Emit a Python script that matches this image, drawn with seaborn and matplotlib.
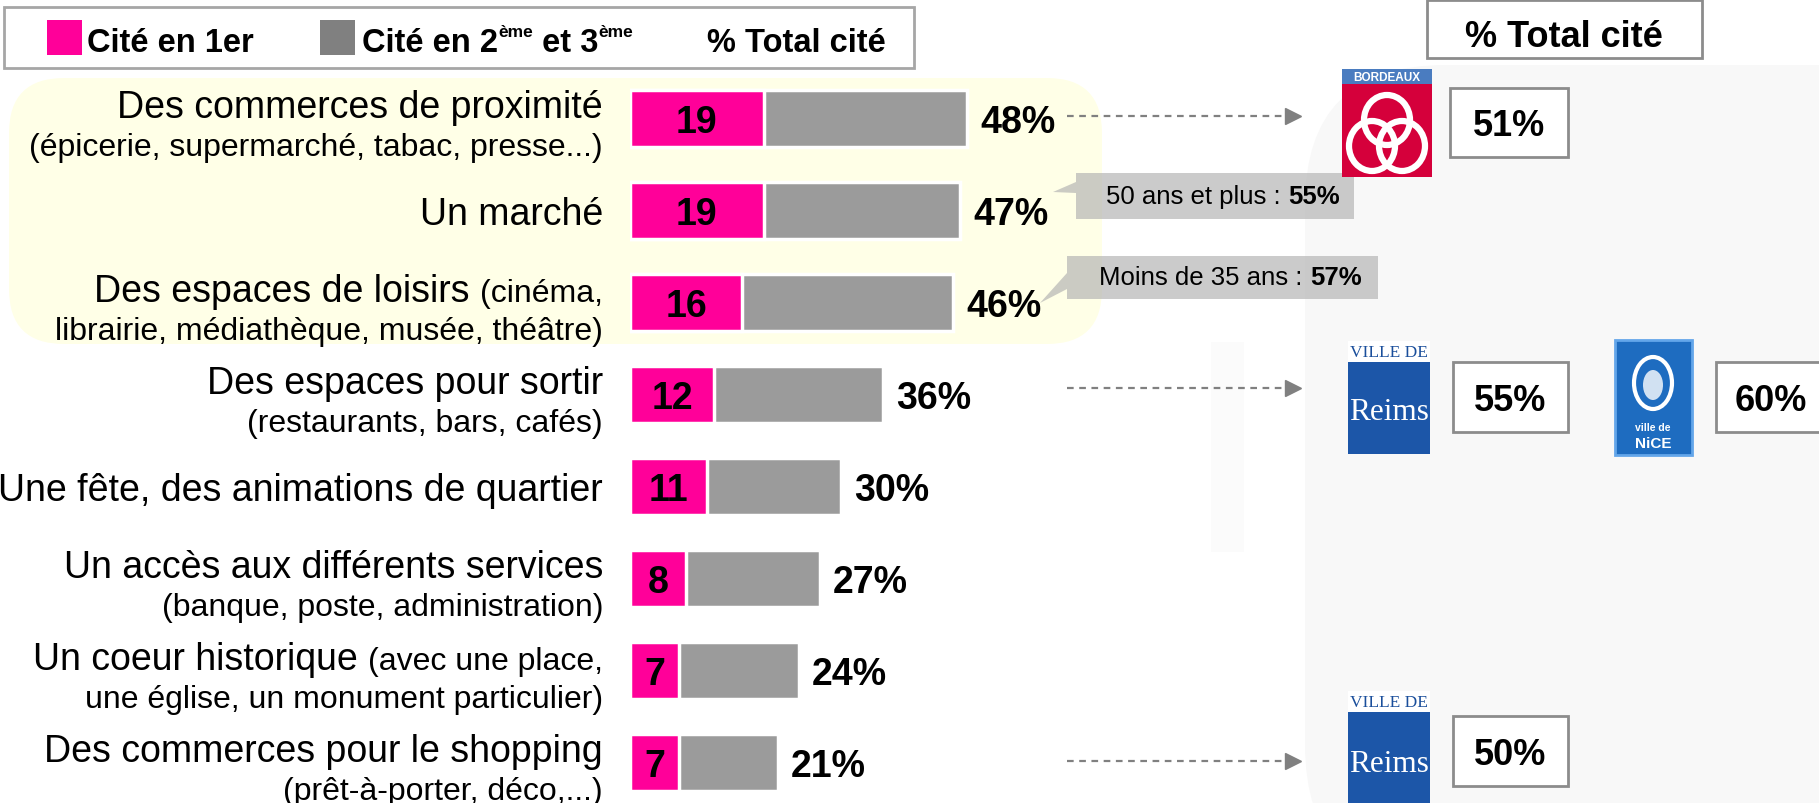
import matplotlib
matplotlib.use("Agg")
import matplotlib.pyplot as plt
from matplotlib.patches import Rectangle, FancyBboxPatch, Polygon, Ellipse
import seaborn as sns
import pandas as pd

# ---- data ----
labels_main = ["Des commerces de proximité", "Un marché", "Des espaces de loisirs ",
               "Des espaces pour sortir", "Une fête, des animations de quartier",
               "Un accès aux différents services", "Un coeur historique ",
               "Des commerces pour le shopping"]
labels_inline = ["", "", "(cinéma,", "", "", "", "(avec une place,", ""]
labels_sub = ["(épicerie, supermarché, tabac, presse...)", "",
              "librairie, médiathèque, musée, théâtre)", "(restaurants, bars, cafés)", "",
              "(banque, poste, administration)", "une église, un monument particulier)",
              "(prêt-à-porter, déco,...)"]
cite_1er = [19, 19, 16, 12, 11, 8, 7, 7]
total_cite = [48, 47, 46, 36, 30, 27, 24, 21]

callout_text = ["50 ans et plus : ", "Moins de 35 ans : "]
callout_value = ["55%", "57%"]

city_values = ["51%", "55%", "60%", "50%"]

PINK = "#FF0099"
GREY = "#9B9B9B"

df = pd.DataFrame({"item": labels_main, "first": cite_1er, "total": total_cite})

W, H = 1819, 804
sns.set_style("white")
plt.rcParams["font.family"] = ["Liberation Sans", "DejaVu Sans"]
plt.rcParams["text.color"] = "black"

fig = plt.figure(figsize=(W / 100, H / 100), dpi=100)

# background / decoration layer in pixel coordinates
bg = fig.add_axes([0, 0, 1, 1])
bg.set_xlim(0, W)
bg.set_ylim(H, 0)
bg.axis("off")

bg.add_patch(FancyBboxPatch((9, 79), 1093, 266, boxstyle="round,pad=0,rounding_size=55",
                            fc="#FFFFE7", ec="none"))
bg.add_patch(FancyBboxPatch((1305, 66), 700, 820, boxstyle="round,pad=0,rounding_size=140",
                            fc="#F8F8F8", ec="none"))
bg.add_patch(Rectangle((1211, 343), 33, 210, fc="#FBFBFB", ec="none"))

# legend box
bg.add_patch(Rectangle((4, 8), 910, 61, fc="white", ec="#A6A6A6", lw=2))
bg.add_patch(Rectangle((47, 21), 35, 35, fc=PINK, ec="none"))
bg.add_patch(Rectangle((320, 21), 35, 35, fc="#808080", ec="none"))
leg_kw = dict(fontsize=23.5, fontweight="bold", va="baseline")
bg.text(87, 52, "Cité en 1er", ha="left", **leg_kw)
t = bg.text(362, 52, "Cité en 2", ha="left", **leg_kw)
sup_kw = dict(fontsize=12.5, fontweight="bold", va="baseline", ha="left")
t = bg.annotate("ème", xy=(1, 37), xycoords=(t, "data"), **sup_kw)
t = bg.annotate(" et 3", xy=(1, 52), xycoords=(t, "data"), ha="left", **leg_kw)
bg.annotate("ème", xy=(1, 37), xycoords=(t, "data"), **sup_kw)
bg.text(707, 52, "% Total cité", ha="left", **leg_kw)

# header on the right
bg.add_patch(Rectangle((1427, 1), 275, 58, fc="white", ec="#8C8C8C", lw=2))
bg.text(1564, 47, "% Total cité", ha="center", va="baseline", fontsize=26, fontweight="bold")

# callouts
callout_boxes = [(1076, 174, 1354, 220, [(1076, 194), (1053, 193), (1076, 183)]),
                 (1067, 257, 1378, 300, [(1067, 290), (1040, 304), (1067, 274)])]
for (x0, y0, x1, y1, tail), txt, val in zip(callout_boxes, callout_text, callout_value):
    pts = [(x0, y0), (x1, y0), (x1, y1), (x0, y1)] + tail
    bg.add_patch(Polygon(pts, closed=True, fc="#B0B0B0", ec="none", alpha=0.65))
    t = bg.text((x0 + x1) / 2 - 18, (y0 + y1) / 2 + 7, txt, ha="center", va="baseline",
                fontsize=18.5)
    bg.annotate(val, xy=(1, (y0 + y1) / 2 + 7), xycoords=(t, "data"), ha="left",
                va="baseline", fontsize=18.5, fontweight="bold")

# dashed arrows to the city comparisons
for y in [117, 389, 762]:
    bg.plot([1067, 1290], [y, y], ls=(0, (3, 2.5)), color="#808080", lw=1.6)
    bg.plot(1293, y, marker=">", ms=11, color="#808080", mec="#808080")

# city logos
# Bordeaux
bg.add_patch(Rectangle((1342, 70), 90, 108, fc="#D5003B", ec="none"))
bg.add_patch(Rectangle((1342, 70), 90, 15, fc="#4A7CC0", ec="none"))
bg.text(1387, 78, "BORDEAUX", color="white", fontsize=8.5, fontweight="bold",
        ha="center", va="center")
for cx, cy in [(1387, 121), (1372, 147), (1402, 147)]:
    bg.add_patch(Ellipse((cx, cy), 46, 50, fc="none", ec="white", lw=4.5))


def reims_logo(x0, y0, y1):
    bg.add_patch(Rectangle((x0, y0), 82, 21, fc="white", ec="none"))
    bg.text(x0 + 41, y0 + 11, "VILLE DE", family="Liberation Serif", fontsize=12.5,
            color="#1A4E9B", ha="center", va="center")
    bg.add_patch(Rectangle((x0, y0 + 21), 82, y1 - y0 - 21, fc="#1C56A8", ec="none"))
    bg.text(x0 + 41, y0 + 21 + (y1 - y0 - 21) / 2 + 4, "Reims", family="Liberation Serif",
            fontsize=22.5, color="white", ha="center", va="center")


reims_logo(1348, 342, 455)
reims_logo(1348, 692, 808)

# Nice
bg.add_patch(Rectangle((1615, 341), 77, 115, fc="#1E6CC0", ec="#63A6EA", lw=2))
bg.add_patch(Ellipse((1653, 384), 38, 52, fc="none", ec="white", lw=3))
bg.add_patch(Ellipse((1653, 386), 20, 30, fc="white", ec="none", alpha=0.8))
bg.text(1653, 428, "ville de", color="white", fontsize=7.5, fontweight="bold",
        ha="center", va="center")
bg.text(1653, 444, "NiCE", color="white", fontsize=11, fontweight="bold",
        ha="center", va="center")

# value boxes
boxes = [(1450, 89, 1568, 158), (1453, 363, 1568, 433), (1716, 363, 1826, 433),
         (1453, 717, 1568, 787)]
for (x0, y0, x1, y1), v in zip(boxes, city_values):
    bg.add_patch(Rectangle((x0, y0), x1 - x0, y1 - y0, fc="white", ec="#8C8C8C", lw=2))
    bg.text((x0 + x1) / 2, (y0 + y1) / 2 + 13, v, ha="center", va="baseline",
            fontsize=26, fontweight="bold")

# ---- bars ----
px_per = 7.03
row_px = 92
ax = fig.add_axes([630 / W, 1 - 809.5 / H, 100 * px_per / W, 8 * row_px / H])
ax.patch.set_visible(False)
sns.barplot(data=df, x="total", y="item", orient="h", color=GREY, saturation=1,
            width=0.62, edgecolor="white", linewidth=2.5, ax=ax)
sns.barplot(data=df, x="first", y="item", orient="h", color=PINK, saturation=1,
            width=0.62, edgecolor="white", linewidth=2.5, ax=ax)
ax.set_xlim(0, 100)
ax.set_ylim(len(df) - 0.5, -0.5)
ax.axis("off")

lab_x = (603 - 630) / px_per
for i, row in df.iterrows():
    ax.text(row["first"] / 2, i + 13.4 / row_px, str(row["first"]), ha="center",
            va="baseline", fontsize=27, fontweight="bold")
    ax.text(row["total"] + 13 / px_per, i + 13.4 / row_px, f"{row['total']}%", ha="left",
            va="baseline", fontsize=27, fontweight="bold")

    sub = labels_sub[i]
    y_main = i - 1.6 / row_px if sub else i + 14 / row_px
    if labels_inline[i]:
        small = ax.text(lab_x, y_main, labels_inline[i], ha="right", va="baseline",
                        fontsize=23)
        ax.annotate(labels_main[i], xy=(0, y_main), xycoords=(small, "data"), ha="right",
                    va="baseline", fontsize=27)
    else:
        ax.text(lab_x, y_main, labels_main[i], ha="right", va="baseline", fontsize=27)
    if sub:
        ax.text(lab_x, i + 36.4 / row_px, sub, ha="right", va="baseline", fontsize=23)

fig.savefig("out.png", dpi=100)
